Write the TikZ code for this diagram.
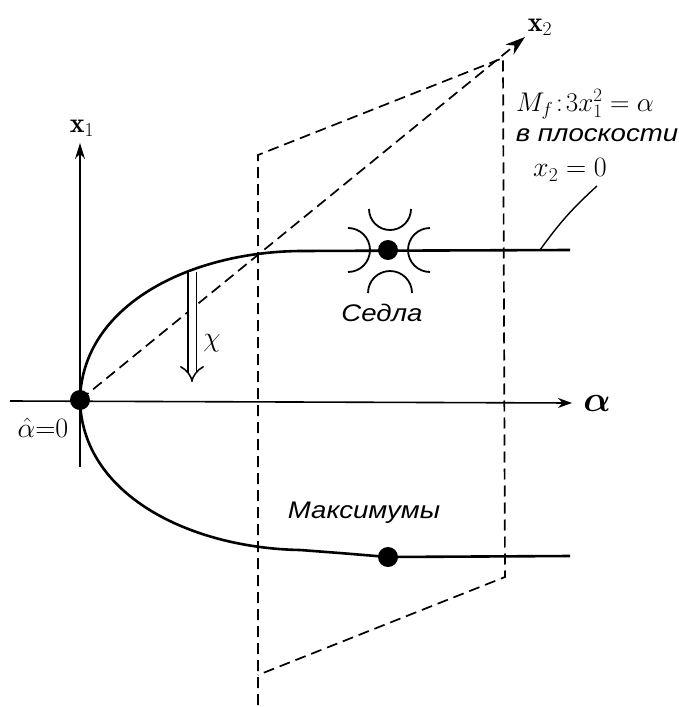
\RequirePackage{fix-cm}
\documentclass[tikz,border=0pt]{standalone}
\usepackage{fontspec}
\newfontfamily\cyr[FakeStretch=1.15]{Liberation Sans}
\usetikzlibrary{arrows.meta}
\begin{document}
\begin{tikzpicture}[x=1pt,y=-1pt,
  curve/.style={line width=2.6pt},
  axis/.style={line width=1.6pt},
  dsh/.style={line width=1.7pt, dash pattern=on 11pt off 6pt},
  dot/.style={circle, fill=black, inner sep=0pt, minimum size=20pt},
  lbl/.style={font=\cyr\itshape\fontsize{24}{26}\selectfont, inner sep=0pt},
  mlbl/.style={font=\fontsize{28}{30}\selectfont, inner sep=0pt},
  blbl/.style={font=\fontsize{36}{38}\selectfont\boldmath, inner sep=0pt},
  arcline/.style={line width=1.8pt}]
\useasboundingbox (0,0) rectangle (678,707);

% points
\node[dot] (O) at (80,400) {};
\node[dot] (S) at (388,250) {};
\node[dot] (M) at (388,557) {};
\coordinate (a1) at (10,401);
\coordinate (a2) at (572,403);
\coordinate (v1) at (80,467);
\coordinate (v2) at (80,143);
\coordinate (x2tip) at (525,37);
\coordinate (P1) at (258,155);
\coordinate (P2) at (503,58);
\coordinate (P3) at (505,577);
\coordinate (P4) at (258,675);
\coordinate (P5) at (258,705);
\coordinate (U) at (570,250);
\coordinate (D) at (570,556);
\coordinate (c1) at (192,272);
\coordinate (c2) at (192,382);
\coordinate (L1) at (540,250);
\coordinate (L2) at (597,186);

% axes
\draw[axis,-{Stealth[length=14pt,width=10pt]}] (a1) -- (a2);
\draw[axis,-{Stealth[length=16pt,width=10pt]}] (v1) -- (v2);
\draw[dsh,-{Stealth[length=20pt,width=13pt]}] (O.center) -- (x2tip);

% plane
\draw[dsh] (P5) -- (P1) -- (P2) -- (P3) -- (P4);

% curves
\draw[curve] (O.center) .. controls (82,305) and (190,252) .. (300,251) -- (U);
\draw[curve] (O.center) .. controls (82,495) and (190,548) .. (300,550)
   .. controls (340,553) .. (M.center) -- (D);

% saddle arcs
\draw[arcline] (411,209) arc[start angle=0,end angle=180,radius=21];
\draw[arcline] (368,293) arc[start angle=180,end angle=360,radius=22];
\draw[arcline] (348,228) arc[start angle=-90,end angle=90,radius=22];
\draw[arcline] (430,272) arc[start angle=90,end angle=270,radius=22];

% chi arrow
\draw[line width=1.5pt, double, double distance=7pt, -{Implies[length=12pt]}] (c1) -- (c2);

% leader
\draw[line width=1.4pt] (L1) to[bend left=6] (L2);

% labels
\node[mlbl] (x1l) at (82,128) {$\mathbf{x}_1$};
\node[mlbl] (x2l) at (540,27) {$\mathbf{x}_2$};
\node[blbl] (al) at (597,403) {$\alpha$};
\node[mlbl] (a0) at (43,428) {$\hat\alpha{=}0$};
\node[mlbl] (chi) at (212,343) {$\chi$};
\node[lbl] (sed) at (382,313) {Седла};
\node[lbl] (max) at (364,513) {Максимумы};
\node[mlbl,font=\fontsize{27}{29}\selectfont] (m1) at (585,104) {$M_f\!:\!3x_1^2=\alpha$};
\node[lbl] (m2) at (597,135) {в плоскости};
\node[mlbl] (m3) at (570,170) {$x_2=0$};
\end{tikzpicture}
\end{document}
